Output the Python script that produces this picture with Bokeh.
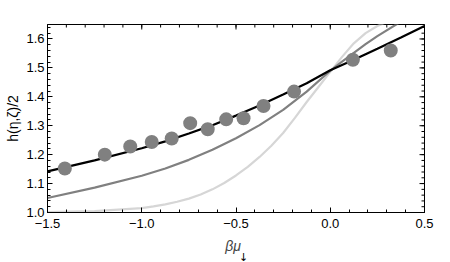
import math
from bokeh.plotting import figure
from bokeh.models import FixedTicker, LinearAxis, Range1d, Label
from bokeh.embed import file_html
from bokeh.resources import INLINE

# ---- data ----
curve_x = [-1.5, -1.25, -1.0, -0.875, -0.75, -0.625, -0.5, -0.375, -0.25, -0.125, 0.0, 0.0625, 0.125, 0.1875, 0.25, 0.375, 0.5]
black_y = [1.142, 1.180, 1.222, 1.246, 1.273, 1.302, 1.335, 1.370, 1.408, 1.447, 1.492, 1.510, 1.528, 1.547, 1.566, 1.605, 1.645]
gray_y = [1.050, 1.086, 1.127, 1.152, 1.182, 1.217, 1.257, 1.302, 1.355, 1.418, 1.490, 1.522, 1.552, 1.582, 1.610, 1.660, 1.700]

light_x = [-1.5, -1.25, -1.0, -0.9375, -0.875, -0.8125, -0.75, -0.6875, -0.625, -0.5625, -0.5, -0.4375,
           -0.375, -0.3125, -0.25, -0.1875, -0.125, -0.0625, 0.0, 0.0625, 0.125, 0.1875, 0.25, 0.3125, 0.375]
light_y = [1.001, 1.005, 1.015, 1.021, 1.028, 1.037, 1.048, 1.062, 1.080, 1.102, 1.128, 1.158,
           1.192, 1.231, 1.275, 1.327, 1.382, 1.434, 1.486, 1.538, 1.585, 1.620, 1.645, 1.662, 1.675]

pts_x = [-1.408, -1.196, -1.061, -0.947, -0.841, -0.743, -0.650, -0.552, -0.460, -0.354, -0.192, 0.120, 0.321]
pts_y = [1.152, 1.200, 1.228, 1.244, 1.256, 1.309, 1.288, 1.322, 1.326, 1.368, 1.418, 1.528, 1.560]

x_ticks = [-1.5, -1.0, -0.5, 0.0, 0.5]
x_tick_labels = ["\u22121.5", "\u22121.0", "\u22120.5", "0.0", "0.5"]
x_minor = [round(-1.5 + 0.1 * i, 2) for i in range(21)]
y_ticks = [1.0, 1.1, 1.2, 1.3, 1.4, 1.5, 1.6]
y_tick_labels = ["1.0", "1.1", "1.2", "1.3", "1.4", "1.5", "1.6"]
y_minor = [round(1.0 + 0.02 * i, 2) for i in range(33)]
x_lo, x_hi, y_lo, y_hi = -1.5, 0.5, 1.0, 1.65

FONT = "Liberation Sans"

p = figure(frame_width=377, frame_height=188, output_backend="svg", toolbar_location=None,
           x_range=Range1d(x_lo, x_hi), y_range=Range1d(y_lo, y_hi),
           min_border_left=47, min_border_right=18, min_border_top=24, min_border_bottom=50,
           x_axis_location=None, y_axis_location=None)
p.grid.visible = False
p.outline_line_color = "black"
p.outline_line_width = 1
p.background_fill_color = "white"
p.border_fill_color = "white"

def style(ax):
    ax.major_tick_in = 5
    ax.major_tick_out = 0
    ax.minor_tick_in = 3
    ax.minor_tick_out = 0
    ax.major_tick_line_color = "black"
    ax.minor_tick_line_color = "black"
    ax.axis_line_color = "black"
    ax.major_label_text_font = FONT
    ax.major_label_text_font_size = "13px"
    ax.major_label_text_color = "black"
    ax.major_label_standoff = 3
    ax.axis_label_text_font = FONT
    ax.axis_label_text_font_size = "14px"
    ax.axis_label_text_color = "black"

xb = LinearAxis(ticker=FixedTicker(ticks=x_ticks, minor_ticks=x_minor),
                major_label_overrides=dict(zip(x_ticks, x_tick_labels)))
style(xb)
xb.major_label_standoff = 6
yl = LinearAxis(ticker=FixedTicker(ticks=y_ticks, minor_ticks=y_minor),
                major_label_overrides=dict(zip(y_ticks, y_tick_labels)))
style(yl)
yl.axis_label = "h(\u03b7,\u03b6)/2"
yl.axis_label_standoff = 2
yl.axis_label_text_font_style = "normal"
p.add_layout(xb, "below")
p.add_layout(yl, "left")

# frame ticks on the top and right edges (half of each dash is clipped by the frame)
p.scatter(x_ticks, [y_hi] * len(x_ticks), marker="dash", angle=math.pi / 2, size=10, line_color="black", line_width=1)
p.scatter(x_minor, [y_hi] * len(x_minor), marker="dash", angle=math.pi / 2, size=6, line_color="black", line_width=1)
p.scatter([x_hi] * len(y_ticks), y_ticks, marker="dash", size=10, line_color="black", line_width=1)
p.scatter([x_hi] * len(y_minor), y_minor, marker="dash", size=6, line_color="black", line_width=1)

p.line(light_x, light_y, line_color="#d6d6d6", line_width=2.2)
p.line(curve_x, gray_y, line_color="#808080", line_width=2.2)
p.line(curve_x, black_y, line_color="black", line_width=2.2)
p.scatter(pts_x, pts_y, size=14, fill_color="#808080", line_color=None)

# x-axis label: italic beta-mu with a small subscript arrow
p.add_layout(Label(x=-0.515, y=1, x_units="data", y_units="screen", text="\u03b2\u03bc",
                   text_font=FONT, text_font_style="italic", text_font_size="14px",
                   text_align="center", text_baseline="alphabetic"), "below")
p.add_layout(Label(x=-0.46, y=-4, x_units="data", y_units="screen", text="\u2193",
                   text_font="DejaVu Sans", text_font_size="11px", text_color="black",
                   text_align="center", text_baseline="bottom"), "below")

open("out.html", "w").write(file_html(p, INLINE))
